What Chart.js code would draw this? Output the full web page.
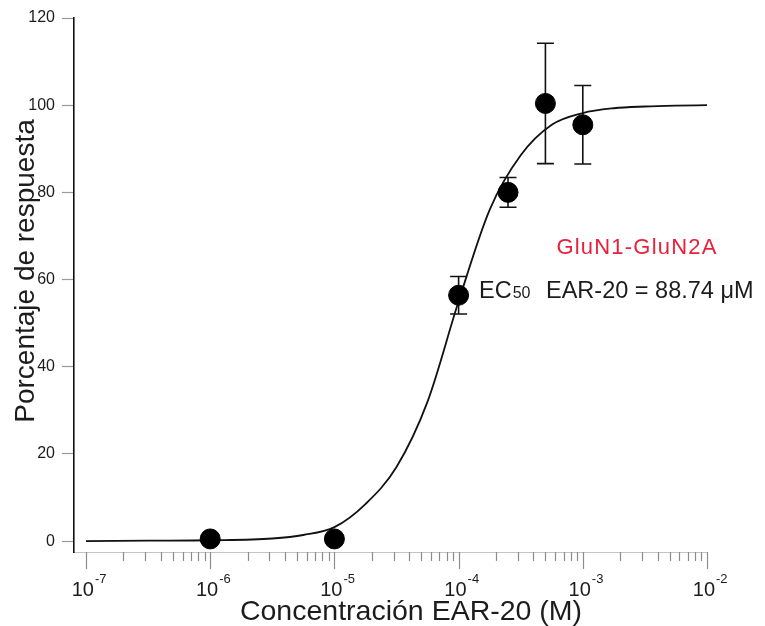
<!DOCTYPE html>
<html>
<head>
<meta charset="utf-8">
<script src="https://cdn.jsdelivr.net/npm/chart.js@4.4.1/dist/chart.umd.min.js"></script>
<style>
  html, body { margin: 0; padding: 0; background: #ffffff; }
  #wrap { width: 765px; height: 626px; }
</style>
</head>
<body>
<div id="wrap"><canvas id="c" width="765" height="626"></canvas></div>
<script>
// Measured responses (mean ± error) at each concentration (M)
const concentrations = [1e-6, 1e-5, 1e-4, 2.5e-4, 5e-4, 1e-3];
const responses      = [0.5, 0.5, 56.4, 80.0, 100.4, 95.5];
const errors         = [0, 0, 4.3, 3.4, 13.8, 9.0];

// Dose-response fit, sampled along log10 concentration
const fitLogConc  = [-7, -6.5, -6, -5.5, -5.25, -5, -4.75, -4.5, -4.25, -4, -3.75, -3.5, -3.25, -3, -2.75, -2.5, -2.25, -2];
const fitResponse = [0, 0.1, 0.2, 0.6, 1.4, 3.2, 8.5, 17, 32, 55, 76, 88.5, 95.5, 98.2, 99.3, 99.7, 99.9, 100];

// Axis ticks
const xTickExponents = [-7, -6, -5, -4, -3, -2];
const yTickValues    = [0, 20, 40, 60, 80, 100, 120];

// Texts
const xTitle      = 'Concentración EAR-20 (M)';
const yTitle      = 'Porcentaje de respuesta';
const seriesLabel = 'GluN1-GluN2A';
const ecPrefix    = 'EC';
const ecSub       = '50';
const ecText      = 'EAR-20 = 88.74 \u03bcM';

const FONT = '"Liberation Sans", Arial, Helvetica, sans-serif';
const TEXT = '#1c1c1c';

const decor = {
  id: 'decor',
  beforeDatasetsDraw(chart) {
    const { ctx, scales: { x, y } } = chart;
    ctx.save();
    ctx.strokeStyle = '#111';
    ctx.lineWidth = 1.6;
    concentrations.forEach((c, i) => {
      const e = errors[i];
      if (!e) return;
      const px = x.getPixelForValue(c);
      const top = y.getPixelForValue(responses[i] + e);
      const bot = y.getPixelForValue(responses[i] - e);
      ctx.beginPath();
      ctx.moveTo(px, top); ctx.lineTo(px, bot);
      ctx.moveTo(px - 8.5, top); ctx.lineTo(px + 8.5, top);
      ctx.moveTo(px - 8.5, bot); ctx.lineTo(px + 8.5, bot);
      ctx.stroke();
    });
    ctx.restore();
  },
  afterDraw(chart) {
    const { ctx, chartArea, scales: { x } } = chart;
    const base = chartArea.bottom;
    ctx.save();
    // x ticks: decades and 2..9 sub-divisions
    ctx.strokeStyle = '#8c8c8c';
    ctx.lineWidth = 1.2;
    xTickExponents.forEach((d, k) => {
      const px = Math.round(x.getPixelForValue(Math.pow(10, d))) + 0.5;
      ctx.beginPath(); ctx.moveTo(px, base); ctx.lineTo(px, base + 17); ctx.stroke();
      if (k < xTickExponents.length - 1) {
        for (let m = 2; m <= 9; m++) {
          const mx = Math.round(x.getPixelForValue(m * Math.pow(10, d))) + 0.5;
          ctx.beginPath(); ctx.moveTo(mx, base); ctx.lineTo(mx, base + 9); ctx.stroke();
        }
      }
    });
    // x tick labels 10^n
    ctx.fillStyle = TEXT;
    ctx.textBaseline = 'alphabetic';
    xTickExponents.forEach(d => {
      const px = x.getPixelForValue(Math.pow(10, d));
      ctx.font = '20px ' + FONT;
      ctx.textAlign = 'right';
      ctx.fillText('10', px + 8, 596);
      ctx.font = '13px ' + FONT;
      ctx.textAlign = 'left';
      ctx.fillText(String(d), px + 9, 583);
    });
    // axis titles
    ctx.font = '28.5px ' + FONT;
    ctx.textAlign = 'center';
    ctx.fillText(xTitle, 411, 620);
    ctx.font = '28px ' + FONT;
    ctx.save();
    ctx.translate(34, 271);
    ctx.rotate(-Math.PI / 2);
    ctx.fillText(yTitle, 0, 0);
    ctx.restore();
    // annotations
    ctx.fillStyle = '#e8203c';
    ctx.font = '22px ' + FONT;
    ctx.letterSpacing = '1.2px';
    ctx.textAlign = 'center';
    ctx.fillText(seriesLabel, 637, 254);
    ctx.letterSpacing = '0px';
    ctx.fillStyle = TEXT;
    ctx.textAlign = 'left';
    let tx = 479;
    ctx.font = '23.5px ' + FONT;
    ctx.fillText(ecPrefix, tx, 298);
    tx += ctx.measureText(ecPrefix).width + 1;
    ctx.font = '16px ' + FONT;
    ctx.fillText(ecSub, tx, 298);
    ctx.font = '23.5px ' + FONT;
    ctx.fillText(ecText, 546, 298);
    ctx.restore();
  }
};

new Chart(document.getElementById('c'), {
  type: 'scatter',
  data: {
    datasets: [
      {
        type: 'line',
        data: fitLogConc.map((l, i) => ({ x: Math.pow(10, l), y: fitResponse[i] })),
        borderColor: '#111',
        borderWidth: 1.8,
        pointRadius: 0,
        fill: false,
        cubicInterpolationMode: 'monotone',
        order: 2
      },
      {
        data: concentrations.map((c, i) => ({ x: c, y: responses[i] })),
        backgroundColor: '#000',
        borderColor: '#000',
        pointRadius: 10,
        pointHoverRadius: 10,
        order: 1
      }
    ]
  },
  options: {
    responsive: false,
    animation: false,
    devicePixelRatio: 1,
    layout: { padding: { left: 0, top: 18, right: 58, bottom: 0 } },
    plugins: { legend: { display: false }, tooltip: { enabled: false } },
    events: [],
    scales: {
      x: {
        type: 'logarithmic',
        min: Math.pow(10, -7.0966),
        max: 1e-2,
        grid: { display: false },
        ticks: { display: false },
        border: { display: true, color: '#c4c4c4', width: 1 },
        afterFit(s) { s.height = 74; }
      },
      y: {
        type: 'linear',
        min: -2.5,
        max: 120,
        afterBuildTicks(s) { s.ticks = yTickValues.map(v => ({ value: v })); },
        grid: { display: true, drawOnChartArea: false, drawTicks: true, tickLength: 12, tickColor: '#9a9a9a', tickWidth: 1.2 },
        border: { display: true, color: '#111', width: 1.6 },
        ticks: { color: TEXT, padding: 7, font: { family: FONT, size: 16 } },
        afterFit(s) { s.width = 74; }
      }
    }
  },
  plugins: [decor]
});
</script>
</body>
</html>
